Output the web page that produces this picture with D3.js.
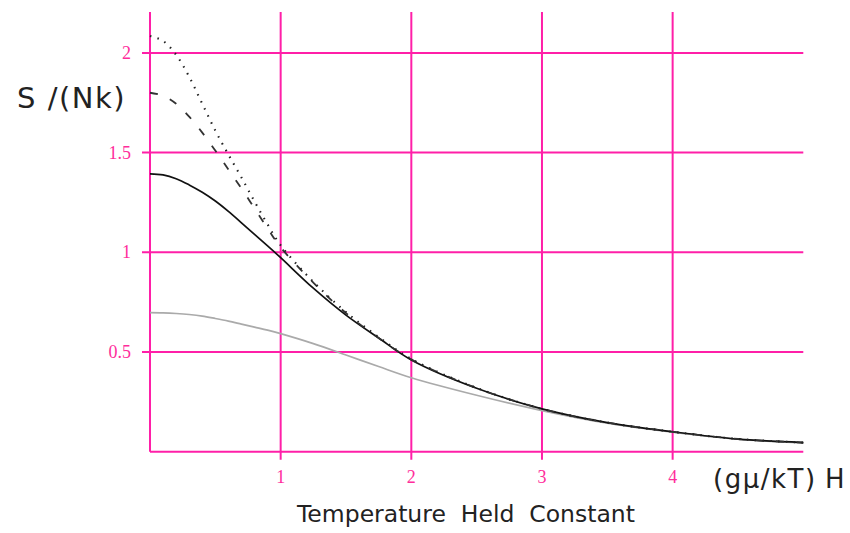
<!DOCTYPE html>
<html>
<head>
<meta charset="utf-8">
<script src="https://cdn.jsdelivr.net/npm/d3@7"></script>
<style>
  body { margin: 0; background: #fff; }
  .tick-label { font-family: "Liberation Serif", serif; font-size: 18px; fill: #ff2d9b; }
  .axis-title { font-family: "DejaVu Sans", sans-serif; fill: #222; }
</style>
</head>
<body>
<div id="chart"></div>
<script>
// field values (g mu H / kT) where the curves were read
var xs = [0, 0.1, 0.2, 0.3, 0.4, 0.5, 0.6, 0.7, 0.8, 0.9, 1.0, 1.25, 1.5, 1.75, 2.0, 2.5, 3.0, 3.5, 4.0, 4.5, 5.0];

// S/(Nk) for each curve
var dotted = [2.085, 2.06, 1.99, 1.88, 1.745, 1.61, 1.49, 1.375, 1.255, 1.14, 1.035, 0.852, 0.70, 0.575, 0.465, 0.32, 0.215, 0.146, 0.10, 0.064, 0.046];
var dashed = [1.80, 1.785, 1.745, 1.68, 1.60, 1.51, 1.415, 1.32, 1.22, 1.12, 1.025, 0.848, 0.695, 0.57, 0.463, 0.319, 0.215, 0.146, 0.10, 0.064, 0.046];
var solid  = [1.393, 1.388, 1.369, 1.338, 1.301, 1.257, 1.205, 1.148, 1.09, 1.032, 0.973, 0.82, 0.685, 0.57, 0.46, 0.318, 0.215, 0.146, 0.10, 0.063, 0.046];
var gray   = [0.697, 0.696, 0.693, 0.688, 0.68, 0.668, 0.655, 0.64, 0.625, 0.61, 0.592, 0.542, 0.485, 0.427, 0.371, 0.283, 0.206, 0.143, 0.098, 0.063, 0.044];

var xTicks = [1, 2, 3, 4];
var yTicks = [0.5, 1, 1.5, 2];
var yTickLabels = ["0.5", "1", "1.5", "2"];

var width = 850;
var height = 533;
var gridColor = "#ff1fa8";

var xScale = d3.scaleLinear().domain([0, 5]).range([150, 803.3]);
var yScale = d3.scaleLinear().domain([0, 2.205]).range([451.7, 12]);

var svg = d3.select("#chart").append("svg")
  .attr("width", width)
  .attr("height", height);

/* grid */
var grid = svg.append("g")
  .attr("stroke", gridColor)
  .attr("stroke-width", 2);

// vertical lines (with a short tick below the axis)
grid.selectAll(".vline")
  .data(xTicks)
  .join("line")
  .attr("x1", d => xScale(d))
  .attr("x2", d => xScale(d))
  .attr("y1", yScale.range()[1])
  .attr("y2", yScale(0) + 8);

// y axis
grid.append("line")
  .attr("x1", xScale(0))
  .attr("x2", xScale(0))
  .attr("y1", yScale.range()[1])
  .attr("y2", yScale(0));

// horizontal lines (with a short tick left of the axis)
grid.selectAll(".hline")
  .data(yTicks)
  .join("line")
  .attr("x1", xScale(0) - 8)
  .attr("x2", xScale(5))
  .attr("y1", d => yScale(d))
  .attr("y2", d => yScale(d));

// x axis
grid.append("line")
  .attr("x1", xScale(0))
  .attr("x2", xScale(5))
  .attr("y1", yScale(0))
  .attr("y2", yScale(0));

/* tick labels */
svg.selectAll(".xlab")
  .data(xTicks)
  .join("text")
  .attr("class", "tick-label")
  .attr("x", d => xScale(d))
  .attr("y", yScale(0) + 31)
  .attr("text-anchor", "middle")
  .text(d => d);

svg.selectAll(".ylab")
  .data(yTicks)
  .join("text")
  .attr("class", "tick-label")
  .attr("x", xScale(0) - 19)
  .attr("y", d => yScale(d) + 6)
  .attr("text-anchor", "end")
  .text((d, i) => yTickLabels[i]);

/* curves */
var line = d3.line()
  .x((d, i) => xScale(xs[i]))
  .y(d => yScale(d))
  .curve(d3.curveCatmullRom.alpha(0.5));

var series = [
  { values: gray,   color: "#aaaaaa", width: 1.7, dash: null },
  { values: solid,  color: "#111111", width: 1.7, dash: null },
  { values: dashed, color: "#333333", width: 1.8, dash: "8,13" },
  { values: dotted, color: "#222222", width: 2.1, dash: "1.5,6.3" }
];

svg.append("g")
  .attr("fill", "none")
  .selectAll("path")
  .data(series)
  .join("path")
  .attr("d", d => line(d.values))
  .attr("stroke", d => d.color)
  .attr("stroke-width", d => d.width)
  .attr("stroke-dasharray", d => d.dash);

/* titles */
svg.append("text")
  .attr("class", "axis-title")
  .attr("x", 17)
  .attr("y", 108)
  .style("font-size", "29px")
  .style("letter-spacing", "1.5px")
  .text("S /(Nk)");

var xTitle = svg.append("text")
  .attr("class", "axis-title")
  .attr("y", 488)
  .style("font-size", "26px");
xTitle.append("tspan")
  .attr("x", 713)
  .style("letter-spacing", "1.5px")
  .text("(gμ/kT)");
xTitle.append("tspan")
  .attr("x", 825)
  .text("H");

svg.append("text")
  .attr("class", "axis-title")
  .attr("x", 297)
  .attr("y", 522)
  .style("font-size", "23.5px")
  .style("white-space", "pre")
  .text("Temperature  Held  Constant");
</script>
</body>
</html>
